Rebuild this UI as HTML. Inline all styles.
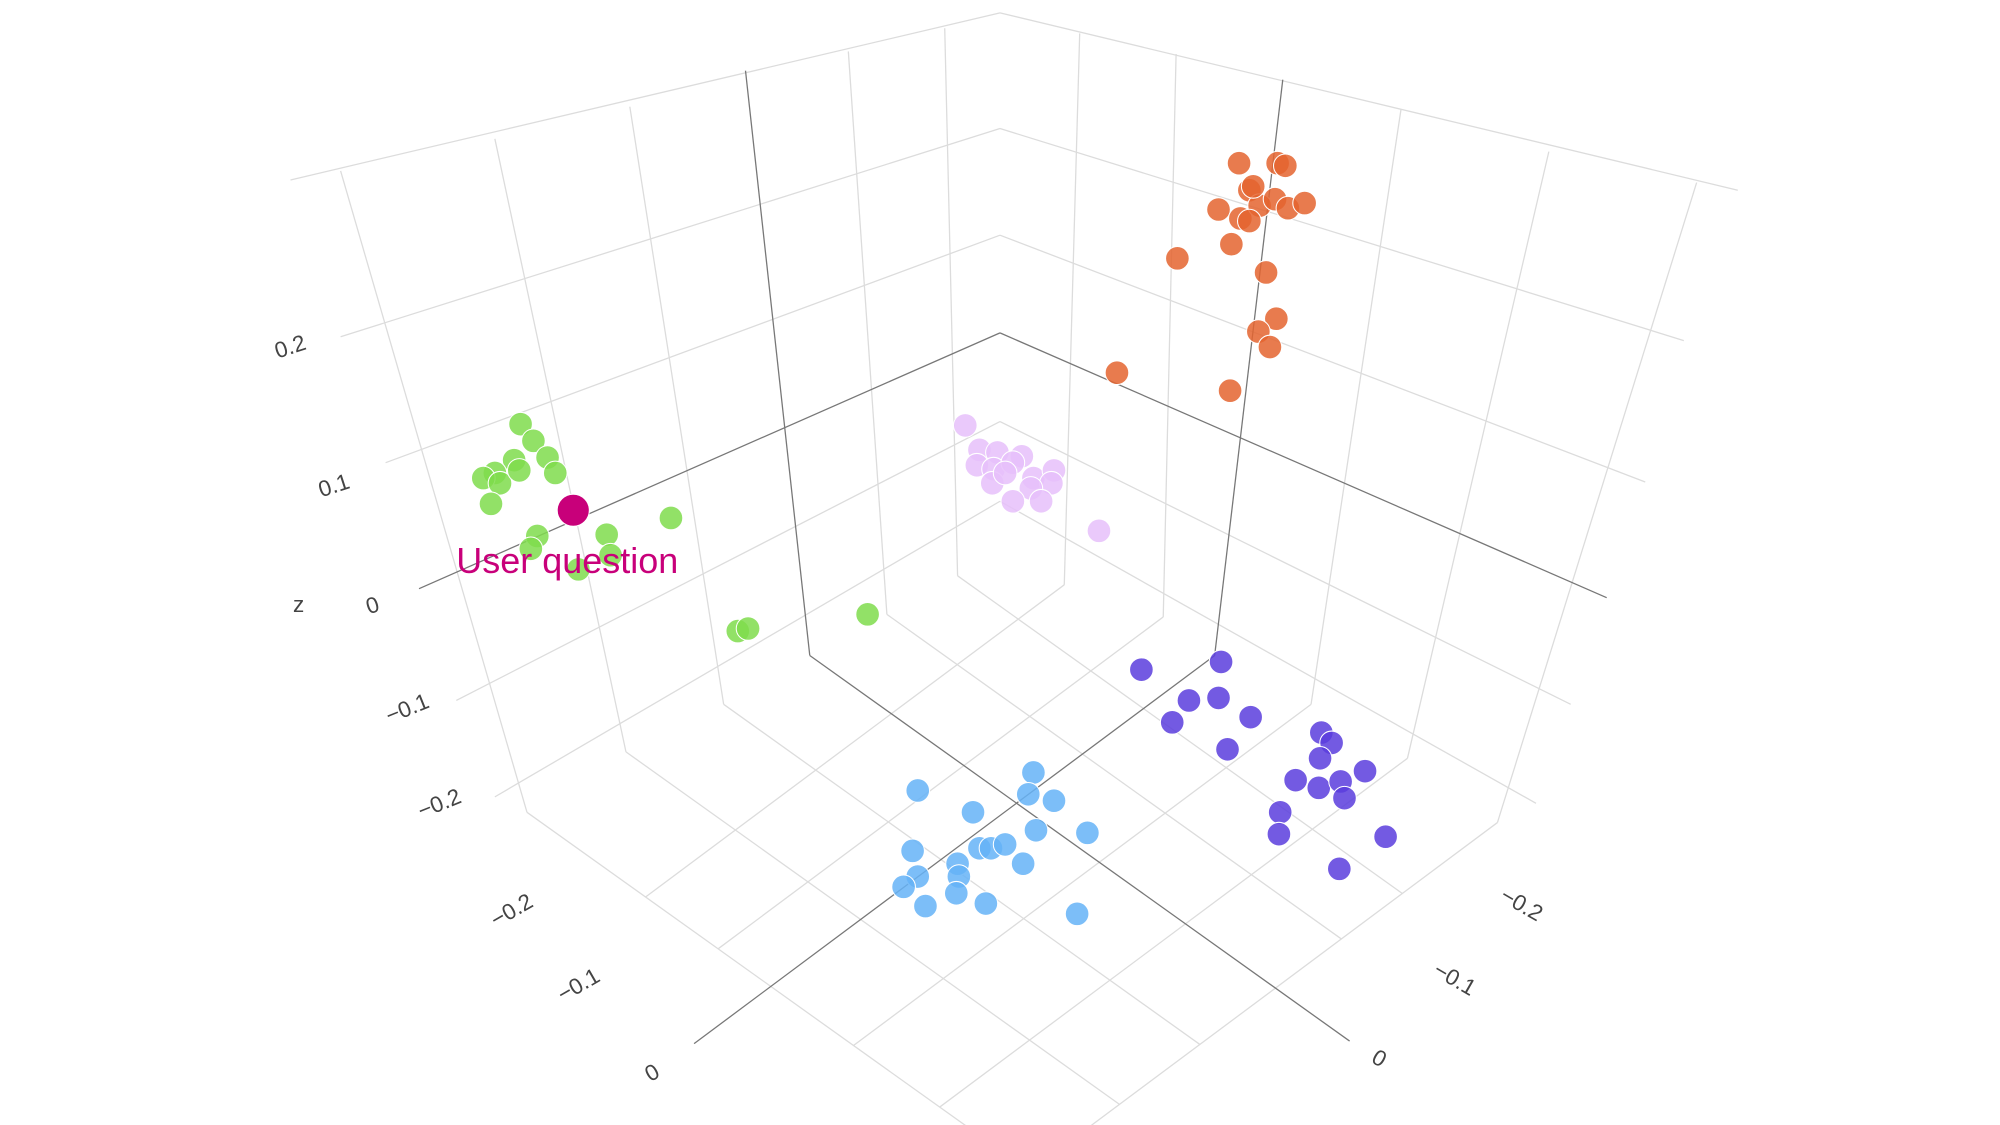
<!DOCTYPE html>
<html><head><meta charset="utf-8"><style>
html,body{margin:0;padding:0;background:#fff;}
svg{display:block}
text{font-family:"Liberation Sans",sans-serif;}
</style></head><body>
<svg id="s" width="2000" height="1125" viewBox="0 0 1556 875.3" preserveAspectRatio="none">
<g id="grid" stroke="#dcdcdc" stroke-width="1" fill="none"></g>
<g id="dark" stroke="#777" stroke-width="1" fill="none">
<line x1="580" y1="55" x2="630" y2="510"/>
<line x1="998" y1="62" x2="945" y2="510"/>
<line x1="778" y1="259" x2="326" y2="458"/>
<line x1="778" y1="259" x2="1250" y2="465"/>
<line x1="630" y1="510" x2="1050" y2="810"/>
<line x1="945" y1="510" x2="540" y2="812"/>
</g>
<g id="pts" stroke="#fff" stroke-width="0.8" fill-opacity="0.85"></g>
<g fill="#444" font-size="17.5">
<text transform="translate(216,279) rotate(-18)">0.2</text>
<text transform="translate(250,387) rotate(-18)">0.1</text>
<text transform="translate(287,478) rotate(-18)">0</text>
<text transform="translate(303,563) rotate(-22)">−0.1</text>
<text transform="translate(328,637) rotate(-22)">−0.2</text>
<text x="228" y="476">z</text>
<text transform="translate(386,722) rotate(-30)">−0.2</text>
<text transform="translate(438,780) rotate(-30)">−0.1</text>
<text transform="translate(506,842) rotate(-30)">0</text>
<text transform="translate(1166,700) rotate(30)">−0.2</text>
<text transform="translate(1114,758) rotate(30)">−0.1</text>
<text transform="translate(1066,826) rotate(30)">0</text>
</g>
<circle cx="446" cy="397" r="12.5" fill="#c8007a" stroke="#fff" stroke-width="0.8"/>
<text x="355" y="446" font-size="28" fill="#c8007a">User question</text>
</svg>
<script>
var NS="http://www.w3.org/2000/svg";
function L(g,a,b,c,d){var l=document.createElementNS(NS,"line");l.setAttribute("x1",a);l.setAttribute("y1",b);l.setAttribute("x2",c);l.setAttribute("y2",d);g.appendChild(l);}
var g=document.getElementById("grid");
[[10,226,140],[100,265,262],[183,300,360],[328,355,545],[390,385,620]].forEach(function(r){L(g,778,r[0],r[1],r[2]);});
[[10,1352,148],[100,1310,265],[183,1280,375],[328,1222,548],[390,1195,625]].forEach(function(r){L(g,778,r[0],r[1],r[2]);});
var lv=[[265,133,410,632],[385,108,487,585],[490,83,563,548],[660,40,690,478],[735,22,745,448]];
lv.forEach(function(r){L(g,r[0],r[1],r[2],r[3]);});
var rv=[[840,26,828,455],[915,42,905,480],[1090,85,1020,548],[1205,118,1095,590],[1320,142,1165,640]];
rv.forEach(function(r){L(g,r[0],r[1],r[2],r[3]);});
var dL=[420,300],dR=[-405,302];
function inter(p,d,q,e){var det=d[0]*(-e[1])-d[1]*(-e[0]);var t=((q[0]-p[0])*(-e[1])-(q[1]-p[1])*(-e[0]))/det;return [p[0]+d[0]*t,p[1]+d[1]*t];}
var FL=[410,632],FR=[1165,640];
lv.forEach(function(r){var p=[r[2],r[3]];var e=inter(p,dL,FR,dR);L(g,p[0],p[1],e[0],e[1]);});
rv.forEach(function(r){var p=[r[2],r[3]];var e=inter(p,dR,FL,dL);L(g,p[0],p[1],e[0],e[1]);});
var pg=document.getElementById("pts");
function P(col,arr){arr.forEach(function(a){var c=document.createElementNS(NS,"circle");c.setAttribute("cx",a[0]);c.setAttribute("cy",a[1]);c.setAttribute("r",9.2);c.setAttribute("fill",col);pg.appendChild(c);});}
P("#e4642f",[[964,127],[994,127],[1000,129],[972,148],[948,163],[965,170],[980,160],[992,155],[1002,162],[1015,158],[958,190],[916,201],[985,212],[993,248],[979,258],[988,270],[869,290],[957,304],[975,145],[972,172]]);
P("#e6c0fa",[[751,331],[762,350],[776,352],[795,355],[760,362],[773,365],[788,360],[772,376],[804,372],[820,366],[818,376],[802,380],[788,390],[810,390],[855,413],[782,368]]);
P("#7fdc4c",[[405,330],[415,343],[426,356],[400,358],[385,368],[376,372],[389,376],[404,366],[432,368],[382,392],[418,417],[413,427],[472,416],[475,432],[450,443],[522,403],[574,491],[582,489],[675,478]]);
P("#5a3ddd",[[888,521],[950,515],[925,545],[948,543],[912,562],[973,558],[955,583],[1028,570],[1036,578],[1027,590],[1008,607],[1026,613],[1043,608],[1062,600],[1046,621],[996,632],[995,649],[1078,651],[1042,676]]);
P("#65b3f7",[[714,615],[804,601],[800,618],[820,623],[757,632],[846,648],[806,646],[710,662],[762,660],[771,660],[782,657],[745,672],[746,682],[796,672],[714,682],[703,690],[744,695],[720,705],[767,703],[838,711]]);
</script>
</body></html>
